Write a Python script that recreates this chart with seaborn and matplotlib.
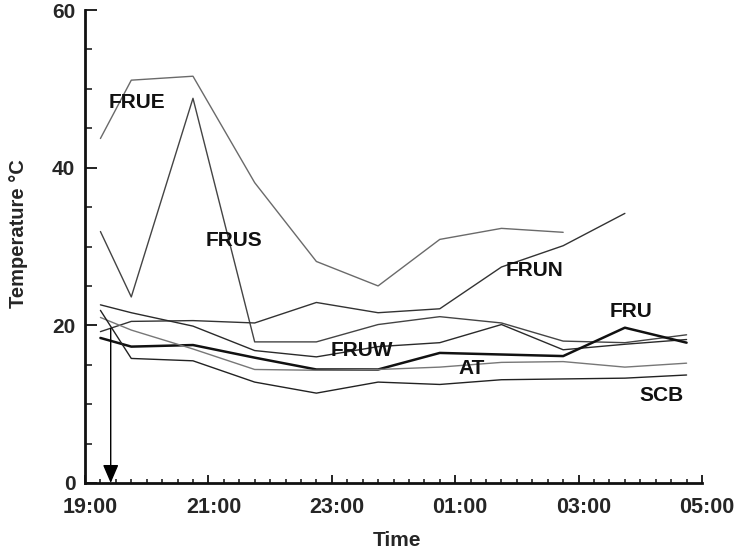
import matplotlib
matplotlib.use("Agg")
import matplotlib.pyplot as plt
import matplotlib.transforms as mtransforms
from matplotlib.ticker import MultipleLocator, FixedLocator
import seaborn as sns
import pandas as pd
import numpy as np

# ---- data -------------------------------------------------------------
times = ["19:15", "19:45", "20:45", "21:45", "22:45", "23:45",
         "00:45", "01:45", "02:45", "03:45", "04:45"]
FRUE = [43.7, 51.1, 51.6, 38.1, 28.1, 25.0, 30.9, 32.3, 31.8, np.nan, np.nan]
FRUS = [31.9, 23.6, 48.8, 17.9, 17.9, 20.1, 21.1, 20.3, 18.0, 17.8, 18.8]
FRUN = [19.2, 20.5, 20.6, 20.3, 22.9, 21.6, 22.1, 27.4, 30.1, 34.2, np.nan]
FRUW = [22.6, 21.6, 19.9, 16.8, 16.0, 17.3, 17.8, 20.1, 16.9, 17.6, 18.2]
FRU = [18.4, 17.3, 17.5, 15.9, 14.4, 14.4, 16.5, 16.3, 16.1, 19.7, 17.8]
AT = [21.0, 19.4, 17.0, 14.4, 14.3, 14.4, 14.7, 15.3, 15.4, 14.7, 15.2]
SCB = [21.9, 15.8, 15.5, 12.8, 11.4, 12.8, 12.5, 13.1, 13.2, 13.3, 13.7]

tick_labels = ["19:00", "21:00", "23:00", "01:00", "03:00", "05:00"]
series_names = ["FRUE", "FRUS", "FRUN", "FRUW", "FRU", "AT", "SCB"]
series_values = [FRUE, FRUS, FRUN, FRUW, FRU, AT, SCB]

# label placement (hours after 19:00, temperature)
label_x = [0.84, 2.42, 7.29, 4.49, 8.85, 6.26, 9.34]
label_y = [48.3, 30.7, 26.9, 16.8, 21.7, 14.5, 11.1]

arrow_time = "19:25"
arrow_top = 19.6


def to_hours(t):
    h, m = map(int, t.split(":"))
    return (h - 19) % 24 + m / 60.0


hours = [to_hours(t) for t in times]

frames = []
for name, vals in zip(series_names, series_values):
    frames.append(pd.DataFrame({"hours": hours, "temp": vals, "series": name}))
df = pd.concat(frames, ignore_index=True)

styles = {
    "FRUE": ("#6a6a6a", 1.0),
    "FRUS": ("#444444", 1.0),
    "FRUN": ("#333333", 1.0),
    "FRUW": ("#2a2a2a", 1.0),
    "FRU": ("#111111", 1.8),
    "AT": ("#777777", 1.0),
    "SCB": ("#222222", 1.0),
}

# ---- style ------------------------------------------------------------
sns.set_style("ticks")
plt.rcParams["font.family"] = ["Liberation Sans", "DejaVu Sans"]
plt.rcParams["font.weight"] = "bold"

fig = plt.figure(figsize=(7.36, 5.53), dpi=100)
ax = fig.add_axes([85 / 736, 1 - 483 / 553, 617 / 736, 473 / 553])

for name in series_names:
    c, lw = styles[name]
    sub = df[df["series"] == name].dropna()
    sns.lineplot(data=sub, x="hours", y="temp", ax=ax, color=c,
                 linewidth=lw, estimator=None, sort=False, legend=False)

for name, lx, ly in zip(series_names, label_x, label_y):
    ax.text(lx, ly, name, ha="center", va="center", fontsize=15,
            fontweight="bold", color="#111111")

ax.annotate("", xy=(to_hours(arrow_time), 0), xytext=(to_hours(arrow_time), arrow_top),
            arrowprops=dict(arrowstyle="-|>,head_length=0.7,head_width=0.3",
                            color="black", lw=1.0,
                            mutation_scale=16, shrinkA=0, shrinkB=0))

ax.set_xlim(0, 10)
ax.set_ylim(0, 60)
ax.xaxis.set_major_locator(FixedLocator([0, 2, 4, 6, 8, 10]))
ax.set_xticklabels(tick_labels)
ax.xaxis.set_minor_locator(MultipleLocator(0.25))
ax.yaxis.set_major_locator(MultipleLocator(20))
ax.yaxis.set_minor_locator(MultipleLocator(5))

for s in ["top", "right"]:
    ax.spines[s].set_visible(False)
for s in ["left", "bottom"]:
    ax.spines[s].set_linewidth(2.0)
    ax.spines[s].set_color("#111111")

ax.tick_params(axis="x", which="major", direction="in", length=5.5, width=1.3,
               pad=10, labelsize=15.5, color="#111111")
ax.tick_params(axis="x", which="minor", direction="in", length=3, width=1.1,
               color="#111111")
ax.tick_params(axis="y", which="major", direction="in", length=8.5, width=1.3,
               pad=7, labelsize=15, color="#111111")
ax.tick_params(axis="y", which="minor", direction="in", length=5, width=1.1,
               color="#111111")

offset = mtransforms.ScaledTranslation(5 / 100, 0, fig.dpi_scale_trans)
for lab in ax.get_xticklabels():
    lab.set_transform(lab.get_transform() + offset)
    lab.set_fontweight("bold")
for lab in ax.get_yticklabels():
    lab.set_fontweight("bold")

ax.set_xlabel("Time", fontsize=15, fontweight="bold")
ax.set_ylabel("Temperature °C", fontsize=14.5, fontweight="bold")
ax.xaxis.set_label_coords((397 - 85) / 617, -(531 - 483) / 473)
ax.yaxis.set_label_coords((28 - 85) / 617, (483 - 234) / 473)

fig.savefig("out.png", dpi=100)
